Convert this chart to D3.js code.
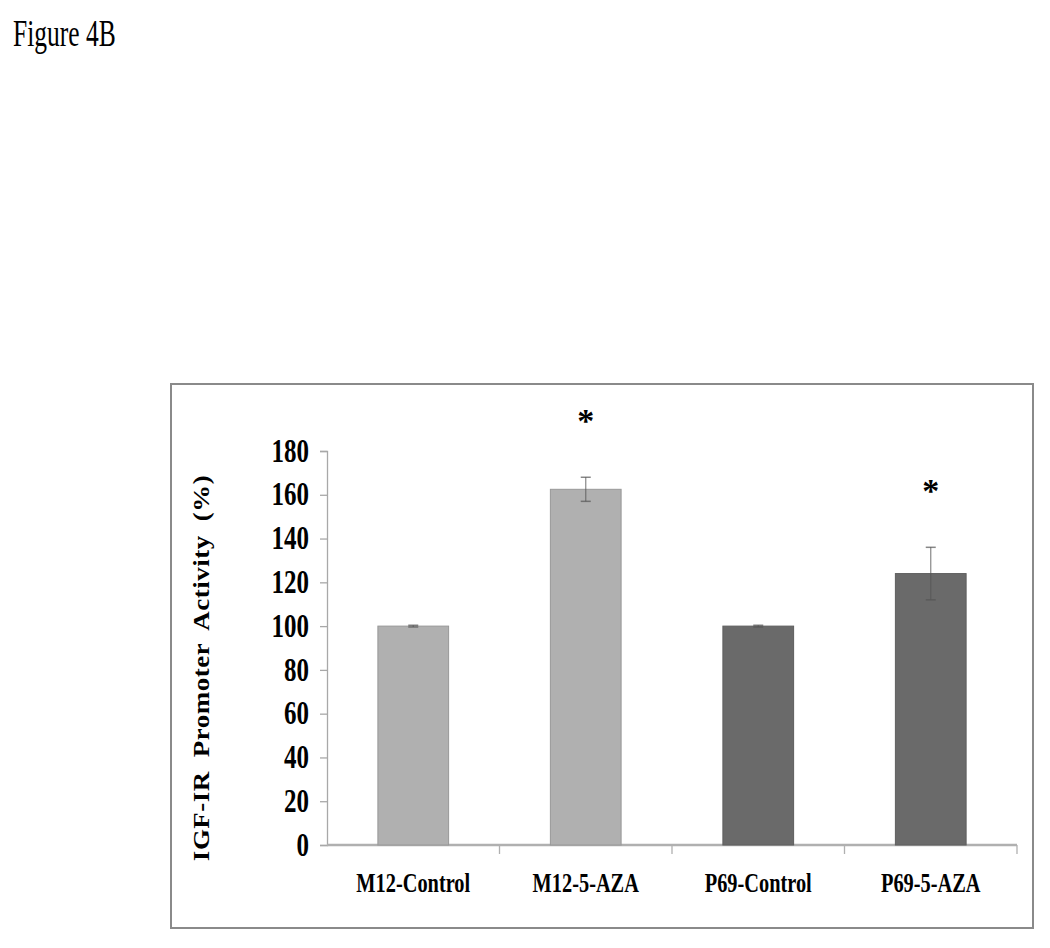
<!DOCTYPE html>
<html>
<head>
<meta charset="utf-8">
<script src="https://cdn.jsdelivr.net/npm/d3@7"></script>
<style>
  body { margin: 0; background: #fff; }
  svg text { font-family: "Liberation Serif", "Times New Roman", serif; fill: #000; }
</style>
</head>
<body>
<svg id="chart" width="1050" height="948"></svg>
<script>
// chart data
const categories = ["M12-Control", "M12-5-AZA", "P69-Control", "P69-5-AZA"];
const values = [100, 162.5, 100, 124];
const errors = [0.4, 5.5, 0.4, 12];
const significant = [false, true, false, true];
const yTicks = [0, 20, 40, 60, 80, 100, 120, 140, 160, 180];

const svg = d3.select("#chart");

// figure label
svg.append("text")
  .attr("transform", "translate(13,46) scale(0.85,1.25)")
  .style("font-size", "30px")
  .text("Figure 4B");

// outer frame
svg.append("rect")
  .attr("x", 171).attr("y", 384)
  .attr("width", 862).attr("height", 544)
  .attr("fill", "none")
  .attr("stroke", "#8a8a8a")
  .attr("stroke-width", 2);

const plot = { left: 327, right: 1017, top: 451, bottom: 845 };

const x = d3.scaleBand()
  .domain(categories)
  .range([plot.left, plot.right])
  .paddingInner(0.59)
  .paddingOuter(0.295);

const y = d3.scaleLinear()
  .domain([0, 180])
  .range([plot.bottom, plot.top]);

const color = d => d.startsWith("M12") ? "#b0b0b0" : "#6a6a6a";

// y axis
const yAxis = svg.append("g")
  .attr("transform", `translate(${plot.left},0)`)
  .call(d3.axisLeft(y).tickValues(yTicks).tickSize(7).tickPadding(11));
yAxis.select(".domain").attr("stroke", "#a8a8a8").attr("stroke-width", 1.3);
yAxis.selectAll(".tick line").attr("stroke", "#a8a8a8").attr("stroke-width", 1.3);
yAxis.selectAll(".tick text")
  .style("font-size", "25px")
  .style("font-weight", "bold")
  .attr("dy", "0.3em")
  .attr("transform", "scale(1,1.35)");

// x axis
const xAxis = svg.append("g")
  .attr("transform", `translate(0,${plot.bottom})`);
xAxis.append("line")
  .attr("x1", plot.left).attr("x2", plot.right)
  .attr("stroke", "#b0b0b0").attr("stroke-width", 2.5);
const bandEdges = categories.map(c => x(c) - x.step() * x.paddingInner() / 2).slice(1).concat([plot.right]);
xAxis.selectAll(".xtick")
  .data(bandEdges)
  .join("line")
  .attr("x1", d => d).attr("x2", d => d)
  .attr("y1", 0).attr("y2", 9)
  .attr("stroke", "#b0b0b0").attr("stroke-width", 1.3);
xAxis.selectAll(".xlabel")
  .data(categories)
  .join("text")
  .attr("transform", d => `translate(${x(d) + x.bandwidth() / 2},47) scale(0.97,1.35)`)
  .attr("text-anchor", "middle")
  .style("font-size", "21px")
  .style("font-weight", "bold")
  .text(d => d);

// bars
svg.selectAll(".bar")
  .data(categories)
  .join("rect")
  .attr("x", d => x(d))
  .attr("y", (d, i) => y(values[i]))
  .attr("width", x.bandwidth())
  .attr("height", (d, i) => y(0) - y(values[i]))
  .attr("fill", d => color(d))
  .attr("stroke", d => d.startsWith("M12") ? "#989898" : "#5e5e5e")
  .attr("stroke-width", 1);

// error bars
const err = svg.selectAll(".err")
  .data(categories)
  .join("g")
  .attr("transform", d => `translate(${x(d) + x.bandwidth() / 2},0)`);
err.append("line")
  .attr("y1", (d, i) => y(values[i] + errors[i]))
  .attr("y2", (d, i) => y(values[i] - errors[i]))
  .attr("stroke", "#555").attr("stroke-width", 1.2).attr("opacity", 0.7);
err.append("line")
  .attr("x1", -5).attr("x2", 5)
  .attr("y1", (d, i) => y(values[i] + errors[i]))
  .attr("y2", (d, i) => y(values[i] + errors[i]))
  .attr("stroke", "#555").attr("stroke-width", 1.5).attr("opacity", 0.7);
err.append("line")
  .attr("x1", -5).attr("x2", 5)
  .attr("y1", (d, i) => y(values[i] - errors[i]))
  .attr("y2", (d, i) => y(values[i] - errors[i]))
  .attr("stroke", "#555").attr("stroke-width", 1.5).attr("opacity", 0.7);

// significance stars
svg.selectAll(".star")
  .data(categories.filter((d, i) => significant[i]))
  .join("text")
  .attr("x", d => x(d) + x.bandwidth() / 2)
  .attr("y", d => {
    const i = categories.indexOf(d);
    return y(values[i] + errors[i]) - 45;
  })
  .attr("text-anchor", "middle")
  .style("font-size", "34px")
  .style("font-weight", "bold")
  .text("*");

// y axis title
svg.append("text")
  .attr("transform", "translate(209,668) rotate(-90) scale(1.12,1)")
  .attr("text-anchor", "middle")
  .style("font-size", "24px")
  .style("font-weight", "bold")
  .style("letter-spacing", "0.5px")
  .style("word-spacing", "6px")
  .text("IGF-IR Promoter Activity (%)");
</script>
</body>
</html>
